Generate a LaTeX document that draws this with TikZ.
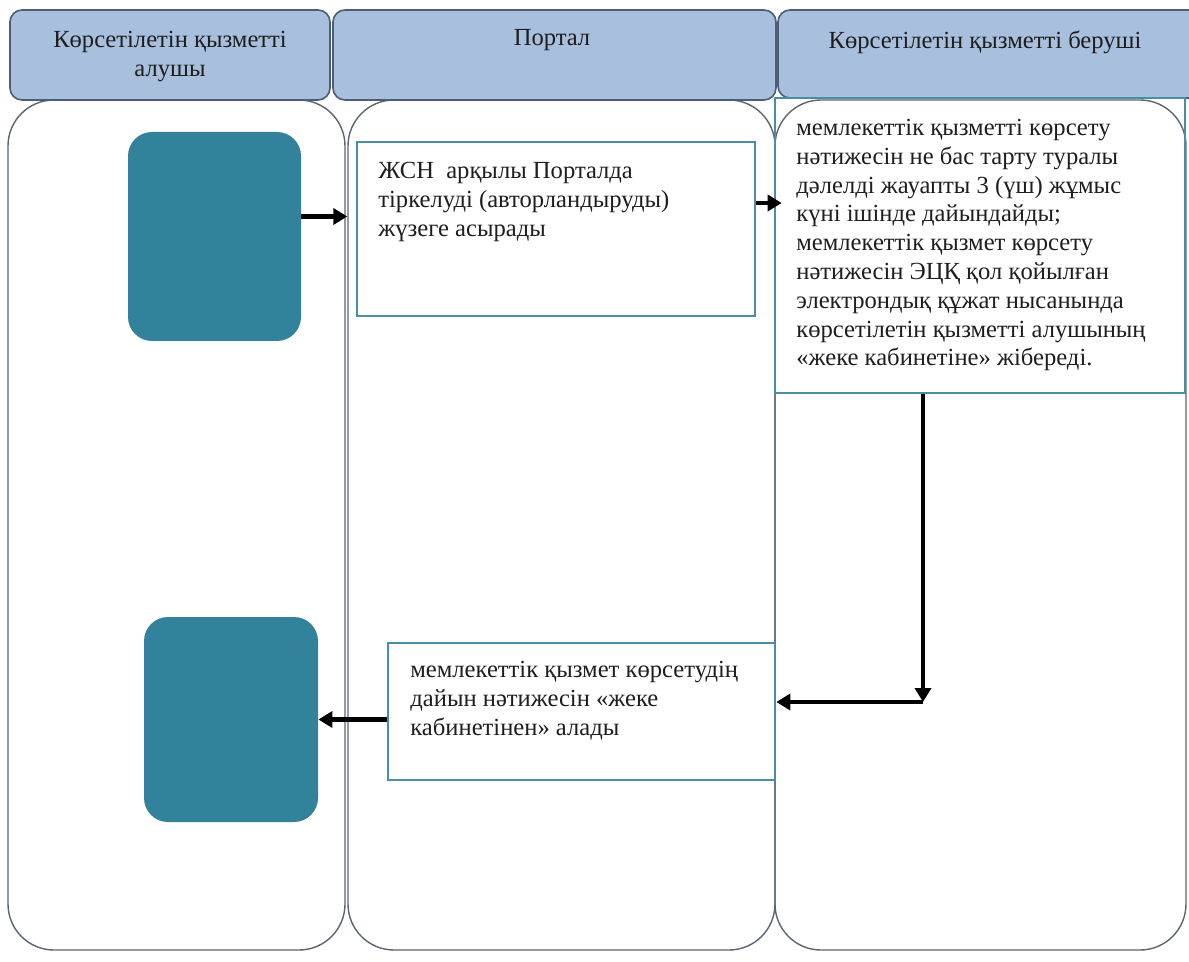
\documentclass[tikz,border=0pt]{standalone}
\usepackage{fontspec}
\setmainfont{Liberation Serif}
\usepackage{tikz}
\usetikzlibrary{arrows.meta,calc,positioning,fit}
\definecolor{Head}{HTML}{A8BFDD}
\definecolor{HeadLine}{HTML}{4C5D75}
\definecolor{Lane}{HTML}{5B6573}
\definecolor{Teal}{HTML}{31829A}
\definecolor{TealLine}{HTML}{4A8EA6}
\definecolor{Ink}{HTML}{1E1E1E}

\begin{document}
\begin{tikzpicture}[x=.5pt,y=-.5pt,
    head/.style={draw=HeadLine,fill=Head,thick,rounded corners=6pt,inner sep=0pt},
    lane/.style={draw=Lane,line width=.7pt,rounded corners=23pt,inner sep=0pt},
    actor/.style={fill=Teal,rounded corners=12pt,inner sep=0pt},
    box/.style={draw=TealLine,line width=1.3pt,inner sep=0pt},
    txt/.style={inner sep=0pt,text=Ink,font=\fontsize{12.3}{14.4}\selectfont,align=left},
    arr/.style={line width=2.3pt,-{Triangle[length=7pt,width=8pt]}}]
      \clip(0,0)rectangle(1189,962);
      \fill[white](0,0)rectangle(1189,962);
      % swimlanes
      \node[lane,fit={(8,100)(345,950)}](L1){};
      \node[lane,fit={(348,100)(775,950)}](L2){};
      \node[lane,fit={(775,100)(1186,950)}](L3){};
      \node[head,fit={(10,10)(330,100)}](H1){};
      \node[head,fit={(333,10)(776,100)}](H2){};
      \node[head,fit={(778,10)(1205,98)}](H3){};
      \node[txt,align=center,anchor=north]at(170,27)(h1){\strut Көрсетілетін қызметті\\алушы};
      \node[txt,anchor=north]at(552,25)(h2){\strut Портал};
      \node[txt,anchor=north]at(985,28)(h3){\strut Көрсетілетін қызметті беруші};
      % steps
      \node[actor,fit={(128,132)(301,341)}](T1){};
      \node[actor,fit={(144,617)(318,822)}](T2){};
      \node[box,fit={(357,142)(755,316)}](B1){};
      \node[box,fit={(775,98)(1185,393)}](B2){};
      \node[box,fit={(388,643)(775,780)}](B3){};
      \node[txt,anchor=north west]at(378,158)(b1){\strut ЖСН\ \ арқылы Порталда\\тіркелуді (авторландыруды)\\жүзеге асырады};
      \node[txt,anchor=north west]at(796,115)(b2){\strut мемлекеттік қызметті көрсету\\нәтижесін не бас тарту туралы\\дәлелді жауапты 3 (үш) жұмыс\\күні ішінде дайындайды;\\мемлекеттік қызмет көрсету\\нәтижесін ЭЦҚ қол қойылған\\электрондық құжат нысанында\\көрсетілетін қызметті алушының\\«жеке кабинетіне» жібереді.};
      \node[txt,anchor=north west]at(410,657)(b3){\strut мемлекеттік қызмет көрсетудің\\дайын нәтижесін «жеке\\кабинетінен» алады};
      % arrows
      \coordinate(c1)at(923,702);
      \draw[arr]([yshift=10pt]T1.east)--([yshift=10pt]T1.east-|L2.west);
      \draw[arr,shorten >=-4pt]([yshift=13pt]B1.east)--([yshift=13pt]B1.east-|B2.west);
      \draw[arr](B2.south-|c1)--(c1);
      \draw[arr](c1)--(c1-|B3.east);
      \draw[arr](B3.west|-T2.east)--(T2.east);
    \end{tikzpicture}
\end{document}
